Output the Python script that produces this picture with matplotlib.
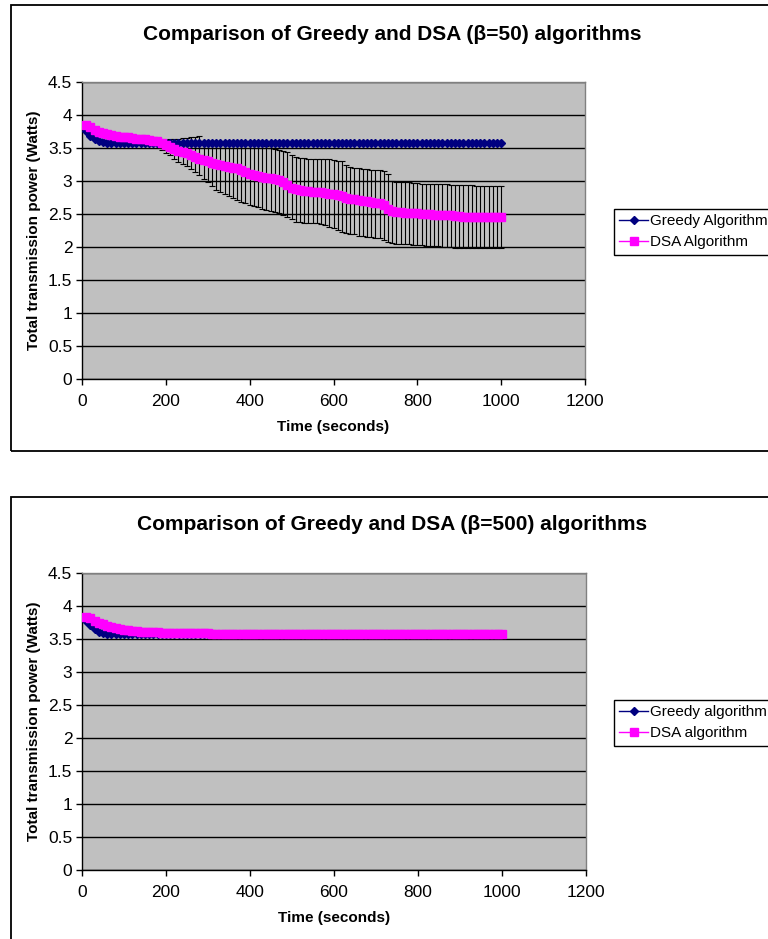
import numpy as np
import matplotlib
matplotlib.use("Agg")
import matplotlib.pyplot as plt
from matplotlib.patches import Rectangle
from matplotlib.lines import Line2D
from matplotlib.ticker import MultipleLocator, FormatStrFormatter

plt.rcParams['font.family'] = ['Liberation Sans', 'DejaVu Sans']

# sample times (s), one sample every 10 s
time = np.arange(10, 1001, 10)

# beta = 50 run
greedy_50 = [3.76, 3.68, 3.63, 3.60, 3.59, 3.58, 3.58, 3.57, 3.57, 3.57,
             3.57, 3.57, 3.57, 3.57, 3.57, 3.57, 3.57, 3.57, 3.57, 3.57,
             3.57, 3.57, 3.57, 3.57, 3.57, 3.57, 3.57, 3.57, 3.57, 3.57,
             3.57, 3.57, 3.57, 3.57, 3.57, 3.57, 3.57, 3.57, 3.57, 3.57,
             3.57, 3.57, 3.57, 3.57, 3.57, 3.57, 3.57, 3.57, 3.57, 3.57,
             3.57, 3.57, 3.57, 3.57, 3.57, 3.57, 3.57, 3.57, 3.57, 3.57,
             3.57, 3.57, 3.57, 3.57, 3.57, 3.57, 3.57, 3.57, 3.57, 3.57,
             3.57, 3.57, 3.57, 3.57, 3.57, 3.57, 3.57, 3.57, 3.57, 3.57,
             3.57, 3.57, 3.57, 3.57, 3.57, 3.57, 3.57, 3.57, 3.57, 3.57,
             3.57, 3.57, 3.57, 3.57, 3.57, 3.57, 3.57, 3.57, 3.57, 3.57]

dsa_50 = [3.85, 3.82, 3.78, 3.75, 3.72, 3.71, 3.69, 3.68, 3.67, 3.66,
          3.66, 3.65, 3.64, 3.63, 3.63, 3.62, 3.61, 3.60, 3.58, 3.55,
          3.52, 3.49, 3.46, 3.44, 3.42, 3.40, 3.37, 3.34, 3.32, 3.30,
          3.28, 3.26, 3.24, 3.23, 3.21, 3.20, 3.19, 3.17, 3.14, 3.11,
          3.09, 3.07, 3.06, 3.05, 3.04, 3.03, 3.01, 2.98, 2.94, 2.90,
          2.88, 2.86, 2.85, 2.85, 2.84, 2.84, 2.83, 2.82, 2.81, 2.80,
          2.79, 2.77, 2.75, 2.73, 2.72, 2.71, 2.70, 2.69, 2.68, 2.67,
          2.66, 2.63, 2.58, 2.54, 2.53, 2.53, 2.52, 2.52, 2.51, 2.51,
          2.50, 2.50, 2.50, 2.49, 2.49, 2.48, 2.48, 2.48, 2.47, 2.47,
          2.46, 2.46, 2.46, 2.46, 2.46, 2.46, 2.46, 2.46, 2.46, 2.46]

# spread of the DSA runs, from 190 s onwards
band_time = np.arange(190, 1001, 10)
dsa_50_hi = [3.61, 3.62, 3.63, 3.63, 3.64, 3.65, 3.65, 3.66, 3.67, 3.68,
             3.57, 3.57, 3.57, 3.57, 3.57, 3.57, 3.57, 3.57, 3.57, 3.57,
             3.57, 3.57, 3.57, 3.57, 3.56, 3.53, 3.50, 3.48, 3.47, 3.46,
             3.44, 3.40, 3.36, 3.35, 3.35, 3.34, 3.34, 3.34, 3.33, 3.33,
             3.33, 3.32, 3.31, 3.30, 3.25, 3.21, 3.20, 3.19, 3.18, 3.18,
             3.17, 3.17, 3.17, 3.15, 3.10, 3.00, 2.99, 2.99, 2.98, 2.98,
             2.97, 2.97, 2.96, 2.96, 2.95, 2.95, 2.95, 2.95, 2.95, 2.94,
             2.94, 2.94, 2.94, 2.94, 2.94, 2.93, 2.93, 2.93, 2.93, 2.93,
             2.93, 2.93]
dsa_50_lo = [3.47, 3.42, 3.39, 3.33, 3.29, 3.26, 3.22, 3.18, 3.13, 3.09,
             3.03, 2.98, 2.93, 2.87, 2.84, 2.81, 2.77, 2.74, 2.71, 2.68,
             2.66, 2.64, 2.62, 2.60, 2.58, 2.56, 2.55, 2.53, 2.51, 2.49,
             2.46, 2.42, 2.38, 2.38, 2.37, 2.37, 2.36, 2.36, 2.35, 2.34,
             2.31, 2.29, 2.26, 2.23, 2.21, 2.20, 2.19, 2.17, 2.16, 2.15,
             2.15, 2.14, 2.13, 2.11, 2.08, 2.06, 2.05, 2.05, 2.04, 2.04,
             2.03, 2.03, 2.03, 2.02, 2.02, 2.01, 2.01, 2.00, 2.00, 2.00,
             1.99, 1.99, 1.98, 1.98, 1.98, 1.98, 1.98, 1.98, 1.98, 1.98,
             1.98, 1.98]

# beta = 500 run
greedy_500 = [3.78, 3.71, 3.65, 3.61, 3.59, 3.58, 3.58, 3.57, 3.57, 3.57,
              3.57, 3.57, 3.57, 3.57, 3.57, 3.57, 3.57, 3.57, 3.57, 3.57,
              3.57, 3.57, 3.57, 3.57, 3.57, 3.57, 3.57, 3.57, 3.57, 3.57,
              3.57, 3.57, 3.57, 3.57, 3.57, 3.57, 3.57, 3.57, 3.57, 3.57,
              3.57, 3.57, 3.57, 3.57, 3.57, 3.57, 3.57, 3.57, 3.57, 3.57,
              3.57, 3.57, 3.57, 3.57, 3.57, 3.57, 3.57, 3.57, 3.57, 3.57,
              3.57, 3.57, 3.57, 3.57, 3.57, 3.57, 3.57, 3.57, 3.57, 3.57,
              3.57, 3.57, 3.57, 3.57, 3.57, 3.57, 3.57, 3.57, 3.57, 3.57,
              3.57, 3.57, 3.57, 3.57, 3.57, 3.57, 3.57, 3.57, 3.57, 3.57,
              3.57, 3.57, 3.57, 3.57, 3.57, 3.57, 3.57, 3.57, 3.57, 3.57]

dsa_500 = [3.83, 3.82, 3.78, 3.75, 3.72, 3.70, 3.68, 3.67, 3.65, 3.64,
           3.63, 3.62, 3.62, 3.61, 3.61, 3.60, 3.60, 3.60, 3.59, 3.59,
           3.59, 3.59, 3.59, 3.59, 3.59, 3.59, 3.59, 3.59, 3.59, 3.59,
           3.58, 3.58, 3.58, 3.58, 3.58, 3.58, 3.58, 3.58, 3.58, 3.58,
           3.58, 3.58, 3.58, 3.58, 3.58, 3.58, 3.58, 3.58, 3.58, 3.58,
           3.58, 3.58, 3.58, 3.58, 3.58, 3.58, 3.58, 3.58, 3.58, 3.58,
           3.58, 3.58, 3.58, 3.58, 3.58, 3.58, 3.58, 3.58, 3.58, 3.58,
           3.58, 3.58, 3.58, 3.58, 3.58, 3.58, 3.58, 3.58, 3.58, 3.58,
           3.58, 3.58, 3.58, 3.58, 3.58, 3.58, 3.58, 3.58, 3.58, 3.58,
           3.58, 3.58, 3.58, 3.58, 3.58, 3.58, 3.58, 3.58, 3.58, 3.58]

titles = ["Comparison of Greedy and DSA (\u03b2=50) algorithms",
          "Comparison of Greedy and DSA (\u03b2=500) algorithms"]
legend_labels = [["Greedy Algorithm", "DSA Algorithm"],
                 ["Greedy algorithm", "DSA algorithm"]]

NAVY = '#000080'
MAGENTA = '#FF00FF'
W, H = 768, 939

fig = plt.figure(figsize=(W / 100, H / 100), dpi=100)


def px_box(x0, y0, x1, y1):
    # pixel box (top-left origin) -> figure fraction rect
    return [x0 / W, 1 - y1 / H, (x1 - x0) / W, (y1 - y0) / H]


def style_axes(ax):
    ax.set_facecolor('#C0C0C0')
    ax.set_xlim(0, 1200)
    ax.set_ylim(0, 4.5)
    ax.xaxis.set_major_locator(MultipleLocator(200))
    ax.yaxis.set_major_locator(MultipleLocator(0.5))
    ax.yaxis.set_major_formatter(FormatStrFormatter('%g'))
    ax.yaxis.grid(True, color='black', linewidth=1.0)
    ax.set_axisbelow(True)
    for s in ('top', 'right'):
        ax.spines[s].set_color('#808080')
        ax.spines[s].set_linewidth(1.0)
    for s in ('left', 'bottom'):
        ax.spines[s].set_color('black')
        ax.spines[s].set_linewidth(1.0)
    ax.tick_params(direction='out', length=4, width=1, labelsize=12.5, pad=3)
    ax.tick_params(axis='x', pad=7)


# outer frames of the two charts
for (x0, y0, x1, y1) in [(11, 5, 790, 451), (11, 497, 790, 960)]:
    fig.patches.append(Rectangle((x0 / W, 1 - y1 / H), (x1 - x0) / W, (y1 - y0) / H,
                                 transform=fig.transFigure, fill=False,
                                 edgecolor='black', linewidth=1.3))

axes_px = [(82, 82, 585, 379), (82, 573, 586, 870)]
title_y = [34, 525]
xlabel_y = [427, 918]
legend_y = [209, 700]
series = [(greedy_50, dsa_50), (greedy_500, dsa_500)]

for i, ax_px in enumerate(axes_px):
    ax = fig.add_axes(px_box(*ax_px))
    style_axes(ax)
    greedy, dsa = series[i]

    if i == 0:
        mask = np.isin(time, band_time)
        mean = np.array(dsa)[mask]
        yerr = [mean - np.array(dsa_50_lo), np.array(dsa_50_hi) - mean]
        ax.errorbar(band_time, mean, yerr=yerr, fmt='none', ecolor='black',
                    elinewidth=0.8, capsize=2.5, capthick=0.8, zorder=2)

    ax.plot(time, greedy, color=NAVY, linewidth=1.0, marker='D',
            markersize=4, markerfacecolor=NAVY, markeredgecolor=NAVY, zorder=3)
    ax.plot(time, dsa, color=MAGENTA, linewidth=1.0, marker='s',
            markersize=6, markerfacecolor=MAGENTA, markeredgecolor=MAGENTA, zorder=4)

    cx = (ax_px[0] + ax_px[2]) / 2
    fig.text(392 / W, 1 - title_y[i] / H, titles[i], ha='center', va='center',
             fontsize=15, fontweight='bold')
    fig.text(cx / W, 1 - xlabel_y[i] / H, "Time (seconds)", ha='center', va='center',
             fontsize=11, fontweight='bold')
    fig.text(34 / W, 1 - (ax_px[1] + ax_px[3]) / 2 / H, "Total transmission power (Watts)",
             ha='center', va='center', rotation=90, fontsize=11, fontweight='bold')

    handles = [Line2D([], [], color=NAVY, marker='D', markersize=4, linewidth=1.0),
               Line2D([], [], color=MAGENTA, marker='s', markersize=6, linewidth=1.0)]
    leg = fig.legend(handles, legend_labels[i], loc='upper left',
                     bbox_to_anchor=(614 / W, 1 - legend_y[i] / H),
                     bbox_transform=fig.transFigure, fontsize=11, frameon=True,
                     fancybox=False, edgecolor='black', framealpha=1,
                     handlelength=1.9, handletextpad=0.1, borderpad=0.35,
                     labelspacing=0.45, borderaxespad=0)
    leg.get_frame().set_linewidth(1.0)

fig.savefig('out.png', dpi=100, facecolor='white')
